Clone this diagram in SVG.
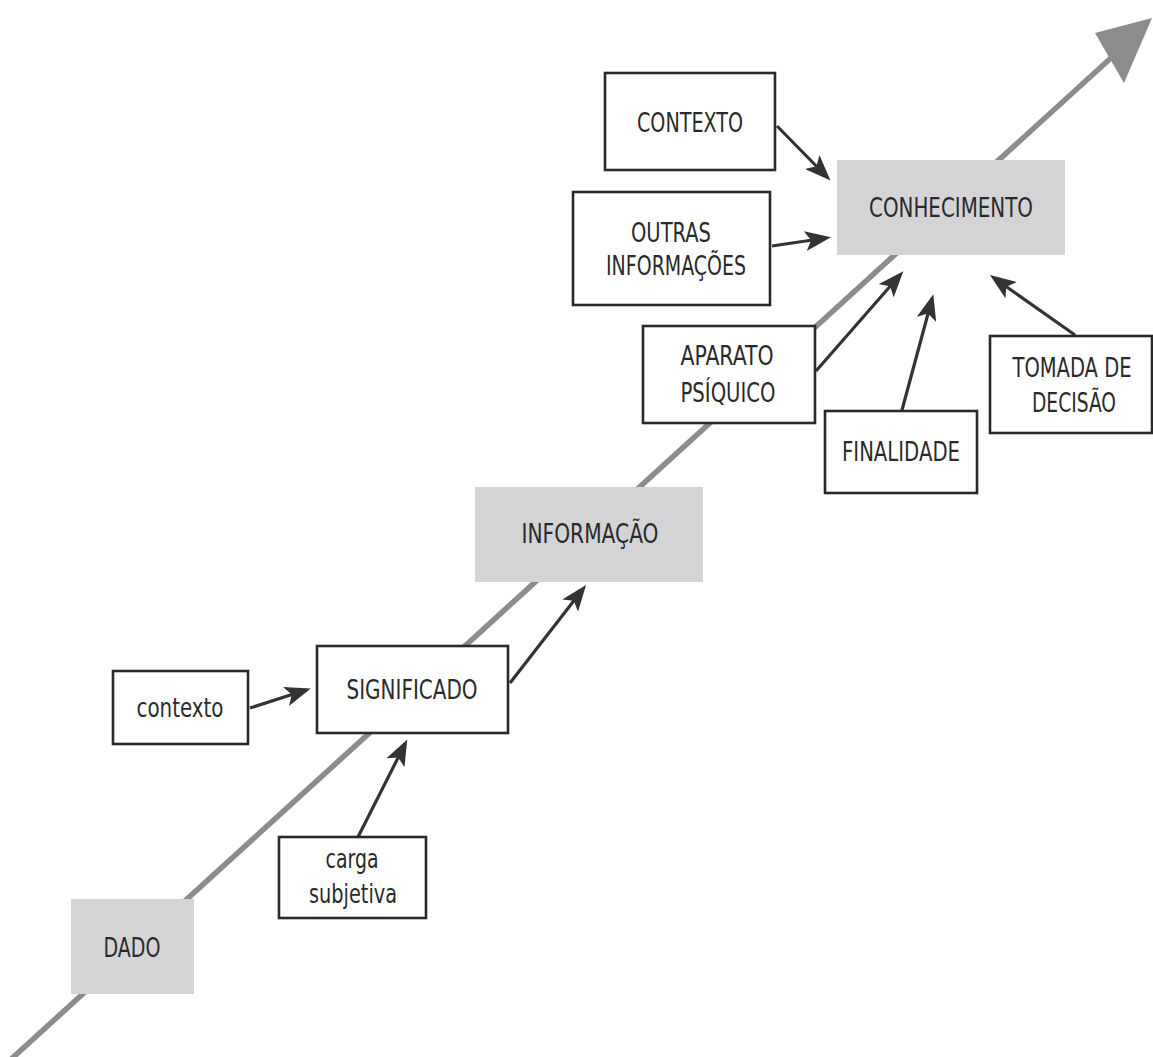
<svg xmlns="http://www.w3.org/2000/svg" width="1153" height="1057" viewBox="0 0 1153 1057">
<style>
  .box { fill: #ffffff; stroke: #2a2a2a; stroke-width: 2.6; }
  .gbox { fill: #d4d4d7; stroke: none; }
  .t { font-family: "Liberation Sans Narrow", "DejaVu Sans Condensed", "Liberation Sans", sans-serif; font-size: 27px; fill: #2a2a2a; text-anchor: middle; }
  .con { stroke: #333333; stroke-width: 3.2; fill: none; marker-end: url(#ah); }
  .axis { stroke: #8c8c8c; stroke-width: 5.5; fill: none; }
</style>
<defs>
  <marker id="ah" markerUnits="userSpaceOnUse" viewBox="0 0 26 20" refX="21" refY="10" markerWidth="26" markerHeight="20" orient="auto">
    <path d="M0,0 L26,10 L0,20 L6,10 Z" fill="#333333"/>
  </marker>
</defs>
<rect width="1153" height="1057" fill="#ffffff"/>
<g id="axis">
  <line class="axis" x1="8" y1="1062" x2="1112" y2="57"/>
  <polygon points="1095,33 1152,18 1124,83" fill="#8c8c8c"/>
</g>
<g id="connectors">
  <line class="con" x1="250" y1="708" x2="306" y2="690"/>
  <line class="con" x1="358" y1="837" x2="405" y2="744"/>
  <line class="con" x1="510" y1="683" x2="583" y2="589"/>
  <line class="con" x1="777" y1="126" x2="827" y2="177"/>
  <line class="con" x1="772" y1="246" x2="826" y2="238"/>
  <line class="con" x1="816" y1="371" x2="900" y2="275"/>
  <line class="con" x1="902" y1="410" x2="932" y2="299"/>
  <line class="con" x1="1075" y1="335" x2="994" y2="278"/>
</g>
<g id="dado">
  <rect class="gbox" x="71" y="899" width="123" height="95"/>
  <text class="t" x="132" y="957" textLength="57" lengthAdjust="spacingAndGlyphs">DADO</text>
</g>
<g id="carga">
  <rect class="box" x="279" y="837" width="147" height="81"/>
  <text class="t" x="352" y="868" textLength="53" lengthAdjust="spacingAndGlyphs">carga</text>
  <text class="t" x="353" y="903" textLength="88" lengthAdjust="spacingAndGlyphs">subjetiva</text>
</g>
<g id="contexto-min">
  <rect class="box" x="113" y="671" width="135" height="73"/>
  <text class="t" x="180" y="717" textLength="87" lengthAdjust="spacingAndGlyphs">contexto</text>
</g>
<g id="significado">
  <rect class="box" x="317" y="646" width="191" height="87"/>
  <text class="t" x="412" y="699" textLength="131" lengthAdjust="spacingAndGlyphs">SIGNIFICADO</text>
</g>
<g id="informacao">
  <rect class="gbox" x="475" y="487" width="228" height="95"/>
  <text class="t" x="590" y="543" textLength="137" lengthAdjust="spacingAndGlyphs">INFORMAÇÃO</text>
</g>
<g id="aparato">
  <rect class="box" x="643" y="326" width="172" height="97"/>
  <text class="t" x="727" y="365" textLength="93" lengthAdjust="spacingAndGlyphs">APARATO</text>
  <text class="t" x="728" y="402" textLength="95" lengthAdjust="spacingAndGlyphs">PSÍQUICO</text>
</g>
<g id="finalidade">
  <rect class="box" x="825" y="411" width="152" height="82"/>
  <text class="t" x="901" y="461" textLength="118" lengthAdjust="spacingAndGlyphs">FINALIDADE</text>
</g>
<g id="tomada">
  <rect class="box" x="990" y="336" width="162" height="97"/>
  <text class="t" x="1072" y="377" textLength="119" lengthAdjust="spacingAndGlyphs">TOMADA DE</text>
  <text class="t" x="1074" y="412" textLength="84" lengthAdjust="spacingAndGlyphs">DECISÃO</text>
</g>
<g id="outras">
  <rect class="box" x="573" y="192" width="197" height="113"/>
  <text class="t" x="671" y="242" textLength="80" lengthAdjust="spacingAndGlyphs">OUTRAS</text>
  <text class="t" x="676" y="275" textLength="140" lengthAdjust="spacingAndGlyphs">INFORMAÇÕES</text>
</g>
<g id="contexto">
  <rect class="box" x="605" y="73" width="170" height="97"/>
  <text class="t" x="690" y="132" textLength="106" lengthAdjust="spacingAndGlyphs">CONTEXTO</text>
</g>
<g id="conhecimento">
  <rect class="gbox" x="837" y="160" width="228" height="95"/>
  <text class="t" x="951" y="217" textLength="164" lengthAdjust="spacingAndGlyphs">CONHECIMENTO</text>
</g>
</svg>
